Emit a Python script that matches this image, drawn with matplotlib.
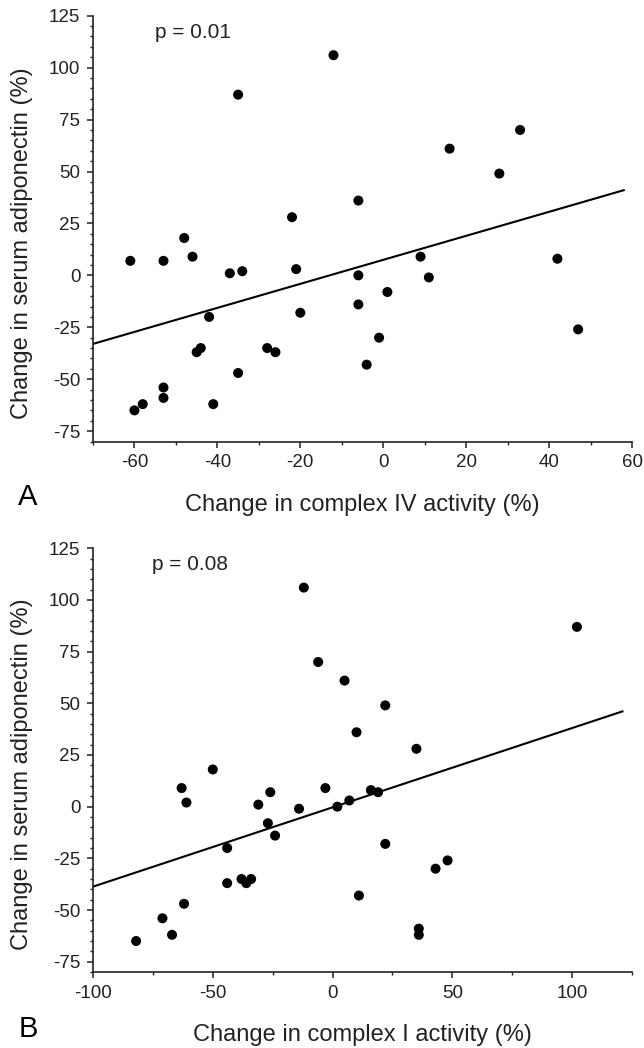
import matplotlib
matplotlib.use('Agg')
import matplotlib.pyplot as plt
from matplotlib.ticker import MultipleLocator

plt.rcParams['font.family'] = ['Liberation Sans', 'DejaVu Sans']
plt.rcParams['axes.unicode_minus'] = False

# panel A: complex IV activity vs adiponectin
a_x = [-61, -53, -48, -46, -37, -34, -35, -22, -21, -12, -6, -6, -6, 1, 9, 11,
       16, 28, 33, 42, 47, -42, -20, -45, -44, -28, -26, -35, -1, -4, -41,
       -53, -53, -58, -60]
a_y = [7, 7, 18, 9, 1, 2, 87, 28, 3, 106, 36, 0, -14, -8, 9, -1,
       61, 49, 70, 8, -26, -20, -18, -37, -35, -35, -37, -47, -30, -43, -62,
       -54, -59, -62, -65]
a_fit_x = [-70, 58]
a_fit_y = [-33, 41]

# panel B: complex I activity vs adiponectin
b_x = [-12, 102, -6, 5, 22, 10, 35, -50, -63, -61, -26, -31, -3, -14, -27, -24,
       2, 7, 16, 19, 22, -44, -44, -38, -36, -34, 11, 43, 48, 36, 36,
       -62, -71, -67, -82]
b_y = [106, 87, 70, 61, 49, 36, 28, 18, 9, 2, 7, 1, 9, -1, -8, -14,
       0, 3, 8, 7, -18, -20, -37, -35, -37, -35, -43, -30, -26, -59, -62,
       -47, -54, -62, -65]
b_fit_x = [-100, 121]
b_fit_y = [-38.7, 46.1]

panels = [
    ('A', a_x, a_y, a_fit_x, a_fit_y, 'p = 0.01', 'Change in complex IV activity (%)',
     (-70, 60), 20, 10, [0.1444, 0.5787, 0.837, 0.4063], (0.115, 0.947), 0.518),
    ('B', b_x, b_y, b_fit_x, b_fit_y, 'p = 0.08', 'Change in complex I activity (%)',
     (-100, 125), 50, 25, [0.1444, 0.0725, 0.837, 0.4043], (0.109, 0.949), 0.0105),
]

fig = plt.figure(figsize=(6.44, 10.48), dpi=100)

for tag, xs, ys, fx, fy, ptxt, xlab, xlim, xmaj, xmin, rect, ppos, tagy in panels:
    ax = fig.add_axes(rect)
    ax.scatter(xs, ys, s=52, color='black', edgecolors='none', zorder=3)
    ax.plot(fx, fy, color='black', lw=1.5, zorder=2)
    ax.set_xlim(*xlim)
    ax.set_ylim(-80, 125)
    ax.xaxis.set_major_locator(MultipleLocator(xmaj))
    ax.xaxis.set_minor_locator(MultipleLocator(xmin))
    ax.yaxis.set_major_locator(MultipleLocator(25))
    ax.yaxis.set_minor_locator(MultipleLocator(5))
    for side in ['top', 'right']:
        ax.spines[side].set_visible(False)
    for side in ['left', 'bottom']:
        ax.spines[side].set_linewidth(1.2)
        ax.spines[side].set_color('#222222')
    ax.tick_params(which='major', length=4, width=1.1, labelsize=13.5, pad=5, color='#222222', labelcolor='#222222')
    ax.tick_params(which='minor', length=2.2, width=1.0, color='#222222')
    ax.set_xlabel(xlab, fontsize=17, color='#222222', va='center')
    ax.xaxis.set_label_coords(0.5, -0.149)
    ax.set_ylabel('Change in serum adiponectin (%)', fontsize=17, color='#222222', va='center')
    ax.yaxis.set_label_coords(-0.132, 0.466)
    ax.text(ppos[0], ppos[1], ptxt, transform=ax.transAxes, fontsize=15,
            ha='left', va='baseline', color='#222222')
    fig.text(28 / 644, tagy, tag, fontsize=21, ha='center', va='baseline', color='black')

fig.savefig('out.png', dpi=100)
